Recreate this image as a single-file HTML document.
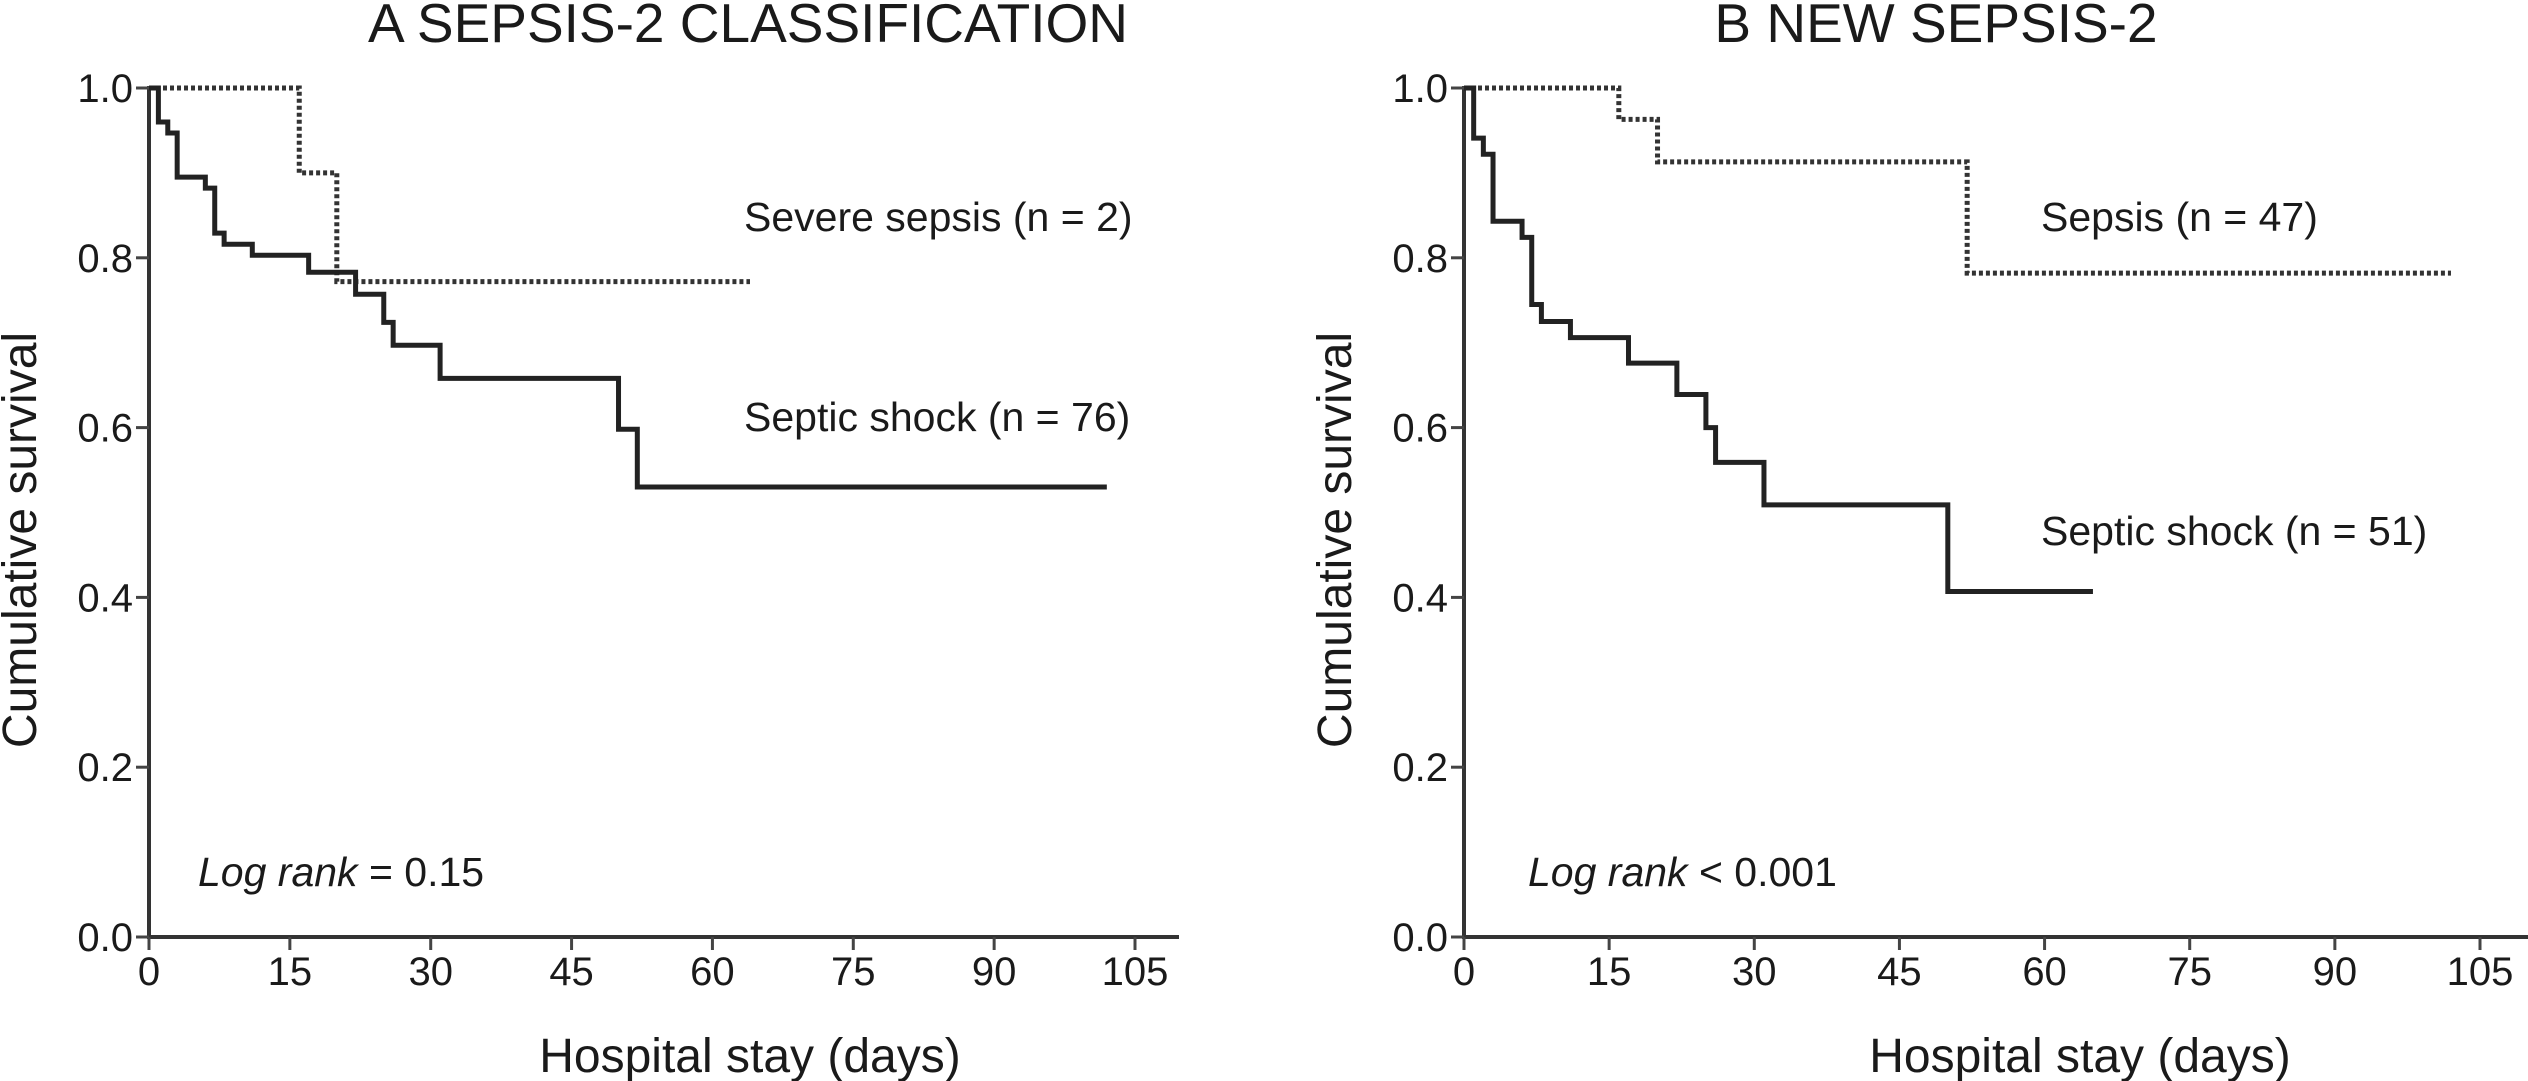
<!DOCTYPE html>
<html><head><meta charset="utf-8"><style>
html,body{margin:0;padding:0;background:#fff;}
svg{display:block;font-family:"Liberation Sans",Arial,sans-serif;}
</style></head><body>
<svg id="chart" width="2528" height="1081" viewBox="0 0 2528 1081">
<text x="748" y="42" font-size="55" text-anchor="middle" fill="#1a1a1a">A SEPSIS-2 CLASSIFICATION</text>
<text x="1936" y="42" font-size="55" text-anchor="middle" fill="#1a1a1a">B NEW SEPSIS-2</text>
<g id="pA"></g>
<g id="pB"></g>
</svg>
<script>
const xTicks=[0,15,30,45,60,75,90,105];
const yTicks=[0.0,0.2,0.4,0.6,0.8,1.0];
const aSevereT=[0,16,20,64];
const aSevereS=[1.0,0.9,0.772,0.772];
const aShockT=[0,1,2,3,6,7,8,11,17,22,25,26,31,50,52,102];
const aShockS=[1.0,0.96,0.947,0.895,0.882,0.829,0.816,0.803,0.783,0.757,0.724,0.697,0.658,0.598,0.53,0.53];
const bSepsisT=[0,16,20,52,102];
const bSepsisS=[1.0,0.963,0.913,0.782,0.782];
const bShockT=[0,1,2,3,6,7,8,11,17,22,25,26,31,50,65];
const bShockS=[1.0,0.941,0.922,0.843,0.824,0.745,0.725,0.706,0.676,0.639,0.600,0.559,0.509,0.407,0.407];
const NS="http://www.w3.org/2000/svg";
function mk(p,tag,at,txt){const e=document.createElementNS(NS,tag);for(const k in at)e.setAttribute(k,at[k]);if(txt!==undefined)e.textContent=txt;p.appendChild(e);return e;}
function panel(g,x0,x105,axEnd,series,labels,logTxt,logX){
  const y0=937,y1=88;
  const X=t=>x0+(x105-x0)*t/105, Y=s=>y0-(y0-y1)*s;
  let e=mk(g,'line',{x1:x0,y1:y1-2,x2:x0,y2:y0,stroke:'#333','stroke-width':4});
  
  
  e=mk(g,'line',{x1:x0-2,y1:y0,x2:axEnd,y2:y0,stroke:'#333','stroke-width':4});
  
  
  xTicks.forEach(t=>{mk(g,'line',{x1:X(t),y1:y0,x2:X(t),y2:y0+13,stroke:'#444','stroke-width':3});
    e=mk(g,'text',{x:X(t),y:985,'font-size':40,'text-anchor':'middle',fill:'#1a1a1a'},String(t));
    
    });
  yTicks.forEach(s=>{mk(g,'line',{x1:x0-13,y1:Y(s),x2:x0,y2:Y(s),stroke:'#444','stroke-width':3});
    e=mk(g,'text',{x:x0-16,y:Y(s)+14,'font-size':40,'text-anchor':'end',fill:'#1a1a1a'},s.toFixed(1));
    
    });
  e=mk(g,'text',{x:(x0+x105)/2+108,y:1072,'font-size':48,'text-anchor':'middle',fill:'#1a1a1a'},'Hospital stay (days)');
  
  
  e=mk(g,'text',{x:0,y:0,'font-size':48,'text-anchor':'middle',fill:'#1a1a1a',transform:`translate(${x0-113},540) rotate(-90)`},'Cumulative survival');
  
  
  series.forEach(sr=>{
    let d=`M${X(sr.t[0])},${Y(sr.s[0])}`;
    for(let i=1;i<sr.t.length;i++){d+=` H${X(sr.t[i])} V${Y(sr.s[i])}`;}
    const a={d:d,fill:'none',stroke:sr.dot?'#333':'#222','stroke-width':sr.dot?5:5};
    if(sr.dot)a['stroke-dasharray']='4 3';
    e=mk(g,'path',a);
    
    
  });
  labels.forEach(l=>{e=mk(g,'text',{x:l.x,y:l.y,'font-size':41,fill:'#1a1a1a'},l.txt);
    
    });
  e=mk(g,'text',{x:logX,y:886,'font-size':41,fill:'#1a1a1a'});
  
  
  mk(e,'tspan',{'font-style':'italic'},'Log rank');
  mk(e,'tspan',{},logTxt);
}
panel(document.getElementById('pA'),149,1135,1179,
 [{t:aSevereT,s:aSevereS,dot:true,name:'severe-sepsis-curve'},{t:aShockT,s:aShockS,dot:false,name:'septic-shock-curve'}],
 [{x:744,y:231,txt:'Severe sepsis (n = 2)',name:'severe-sepsis-label'},{x:744,y:431,txt:'Septic shock (n = 76)',name:'septic-shock-label'}],
 ' = 0.15',198);
panel(document.getElementById('pB'),1464,2480,2528,
 [{t:bSepsisT,s:bSepsisS,dot:true,name:'sepsis-curve'},{t:bShockT,s:bShockS,dot:false,name:'septic-shock-curve'}],
 [{x:2041,y:231,txt:'Sepsis (n = 47)',name:'sepsis-label'},{x:2041,y:545,txt:'Septic shock (n = 51)',name:'septic-shock-label'}],
 ' < 0.001',1528);
</script>
</body></html>
